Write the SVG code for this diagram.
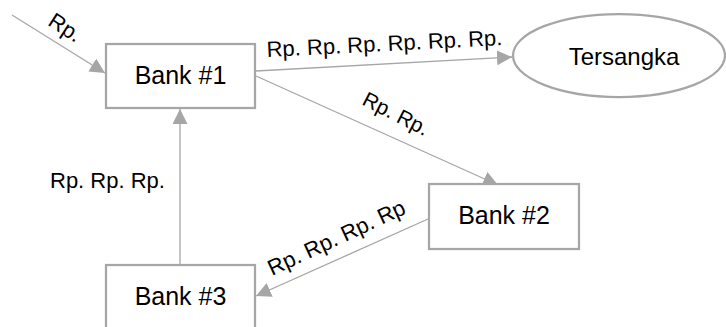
<svg xmlns="http://www.w3.org/2000/svg" width="726" height="327" viewBox="0 0 726 327">
<style>
.box{fill:#fff;stroke:#a6a6a6;stroke-width:2.25}
.lbl{font-family:"Liberation Sans",Arial,sans-serif;fill:#000}
.node{font-size:25px;text-anchor:middle}
.edge{font-size:22px}
.conn{stroke:#a6a6a6;stroke-width:1.3;fill:none;marker-end:url(#arr)}
</style>
<defs>
<marker id="arr" markerUnits="userSpaceOnUse" markerWidth="16" markerHeight="16" refX="15" refY="7.5" orient="auto">
<path d="M0,0 L15,7.5 L0,15 z" fill="#a6a6a6"/>
</marker>
</defs>
<rect width="726" height="327" fill="#fff"/>
<g id="connectors">
<line class="conn" x1="12" y1="15" x2="105" y2="73"/>
<line class="conn" x1="256" y1="71" x2="512" y2="57"/>
<line class="conn" x1="256" y1="76" x2="498" y2="185"/>
<line class="conn" x1="428" y1="219" x2="256" y2="296"/>
<line class="conn" x1="180" y1="264" x2="180" y2="109"/>
<text class="lbl edge" transform="translate(65,28) rotate(33)" x="0" y="7" text-anchor="middle">Rp.</text>
<text class="lbl edge" transform="rotate(-2.9 267 57)" x="267" y="57">Rp. Rp. Rp. Rp. Rp. Rp.</text>
<text class="lbl" style="font-size:21px" transform="rotate(27 361 104)" x="361" y="104">Rp. Rp.</text>
<text class="lbl edge" transform="rotate(-25 272 276)" x="272" y="276">Rp. Rp. Rp. Rp</text>
<text class="lbl edge" x="50" y="188">Rp. Rp. Rp.</text>
</g>
<g id="bank1">
<rect class="box" x="106" y="44" width="149" height="64"/>
<text class="lbl node" x="180.5" y="84">Bank #1</text>
</g>
<g id="tersangka">
<ellipse class="box" cx="619" cy="55.5" rx="106" ry="41.5"/>
<text class="lbl node" style="font-size:24px" x="624" y="65">Tersangka</text>
</g>
<g id="bank2">
<rect class="box" x="429" y="184" width="150" height="65"/>
<text class="lbl node" x="504" y="224">Bank #2</text>
</g>
<g id="bank3">
<rect class="box" x="106" y="265" width="149" height="64"/>
<text class="lbl node" x="180.5" y="305">Bank #3</text>
</g>
</svg>
